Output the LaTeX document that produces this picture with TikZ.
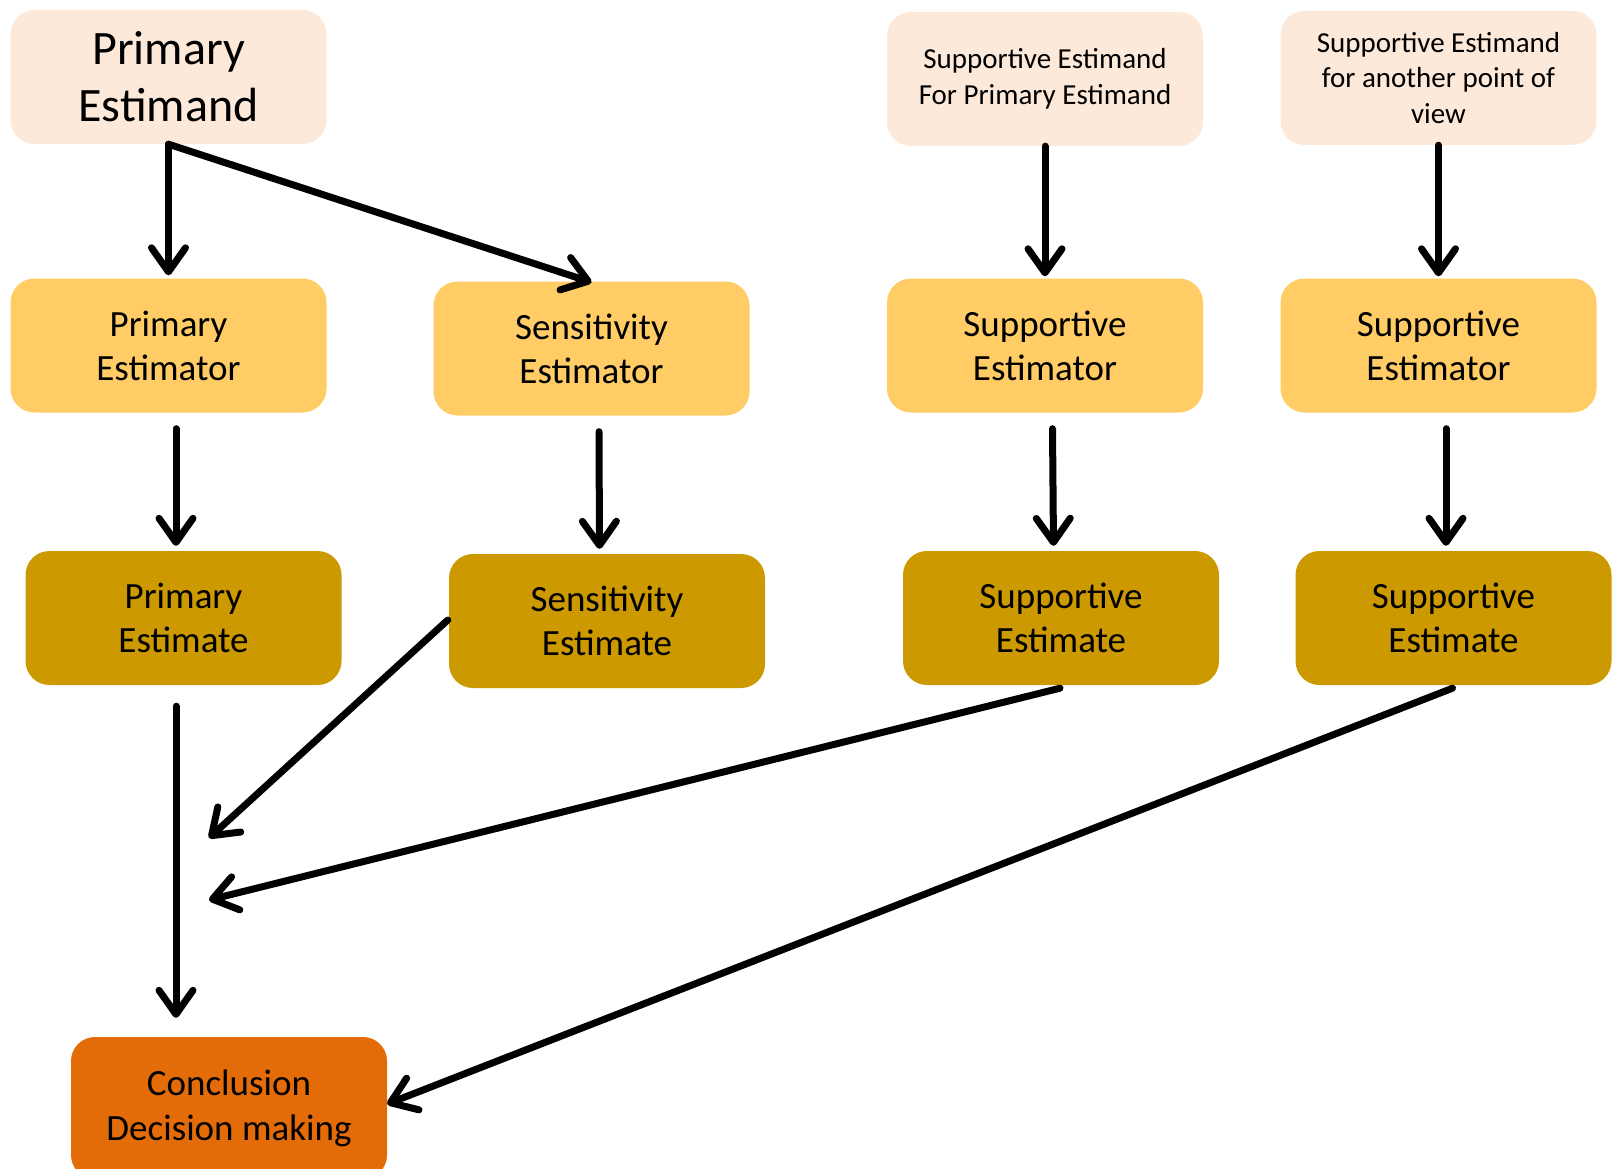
\documentclass[tikz,border=0pt]{standalone}
\usepackage{fontspec}
\setmainfont{Carlito}
\usetikzlibrary{arrows.meta,calc}
\definecolor{estimandcol}{HTML}{FDE9D9}
\definecolor{estimatorcol}{HTML}{FFCC66}
\definecolor{estimatecol}{HTML}{CC9900}
\definecolor{conclcol}{HTML}{E36C09}
\begin{document}
\begin{tikzpicture}[%
    x=1pt, y=-1pt,              % One unit per pixel, y going down
    >={Straight Barb[length=24pt,width=34pt,round]}, % Open barbed arrows
    ]
% -------------------------------------------------
% A few box styles
\tikzset{
  base/.style={rounded corners=24pt, inner sep=0pt, align=center,
    minimum width=316pt, minimum height=134pt},
  estimand/.style={base, fill=estimandcol},
  estimator/.style={base, fill=estimatorcol, font=\fontsize{37}{44}\selectfont},
  estimate/.style={base, fill=estimatecol, font=\fontsize{37}{44}\selectfont},
  decision/.style={base, fill=conclcol, minimum height=142pt,
    font=\fontsize{37}{45}\selectfont},
  big/.style={font=\fontsize{48}{57}\selectfont},
  small/.style={font=\fontsize{29}{35.5}\selectfont},
  % Connector line style
  norm/.style={->, draw, line width=7pt, line cap=round},
}
\useasboundingbox (0,0) rectangle (1612,1169);
% -------------------------------------------------
% Estimands on top
\node [estimand, big]   (estd0) at (168.5,77) {Primary\\Estimand};
\node [estimand, small] (estd2) at (1045,79)  {Supportive Estimand\\For Primary Estimand};
\node [estimand, small] (estd3) at (1438.5,78) {Supportive Estimand\\for another point of\\view};
% Estimators
\node [estimator] (estr0) at (168.5,345.5) {Primary\\Estimator};
\node [estimator] (estr1) at (591.5,348.5) {Sensitivity\\Estimator};
\node [estimator] (estr2) at (1045,345.5)  {Supportive\\Estimator};
\node [estimator] (estr3) at (1438.5,345.5) {Supportive\\Estimator};
% Estimates
\node [estimate] (este0) at (183.5,618) {Primary\\Estimate};
\node [estimate] (este1) at (607,621)   {Sensitivity\\Estimate};
\node [estimate] (este2) at (1061,618)  {Supportive\\Estimate};
\node [estimate] (este3) at (1453.5,618) {Supportive\\Estimate};
% Decision
\node [decision] (concl) at (229,1108) {Conclusion\\Decision making};
% -------------------------------------------------
% Connectors
\draw [norm] (estd0.south) -- ($(estr0.north)+(0,-3)$);
\draw [norm] (estd0.south) -- ($(estr1.north)+(0,1)$);
\foreach \i in {2,3}
  \draw [norm] (estd\i.south) -- ($(estr\i.north)+(0,-2)$);
\foreach \i in {0,...,3}
  \draw [norm] ($(estr\i.south)+(7.5,16)$) -- ($(este\i.north)+(-7.5,-5)$);
\draw [norm] ($(este0.south)+(-7.5,21)$) -- ($(concl.north -| este0.south)+(-7.5,-19)$);
\coordinate (m1) at (209,838);
\coordinate (m2) at (209,900);
\draw [norm] ($(este1.west)+(-1,-1)$) -- (m1);
\draw [norm] ($(este2.south)+(-1,3)$) -- (m2);
\draw [norm] ($(este3.south)+(-1,3)$) -- ($(concl.east)+(0,-4)$);
% -------------------------------------------------
\end{tikzpicture}
\end{document}
